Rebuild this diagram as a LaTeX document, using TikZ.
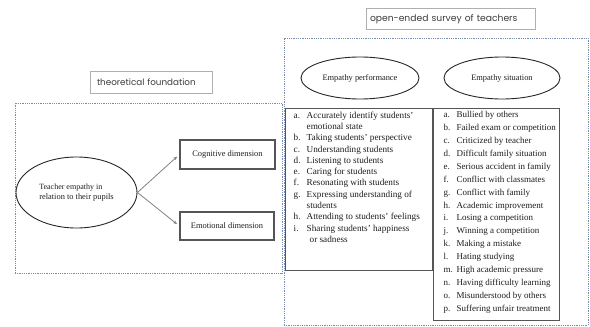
\documentclass[tikz,border=0pt]{standalone}
\usepackage{fontspec}
\setmainfont{Liberation Serif}
\newfontfamily\hdrfont{Poppins}
\usetikzlibrary{shapes.geometric,arrows.meta}
\definecolor{framecol}{RGB}{120,138,175}
\definecolor{hdrline}{RGB}{175,175,175}
\definecolor{hdrtext}{RGB}{60,60,60}
\definecolor{boxline}{RGB}{85,85,85}
\definecolor{txt}{RGB}{30,30,30}
\definecolor{arrcol}{RGB}{130,130,130}
\tikzset{
  hdrbox/.style={draw=hdrline, line width=0.8pt, inner ysep=0pt, inner xsep=4pt, text=hdrtext,
    align=left, font=\hdrfont\fontsize{9.2}{10}\selectfont},
  framebox/.style={draw=framecol, dash pattern=on 0.9pt off 0.9pt, line width=1pt, inner sep=0pt},
  ellnode/.style={ellipse, draw=black!85, line width=0.9pt, inner sep=0pt, text=txt,
    font=\fontsize{8.4}{10}\selectfont},
  dimbox/.style={draw=boxline, line width=1.2pt, inner sep=0pt, text=txt,
    font=\fontsize{8.4}{10}\selectfont},
  listbox/.style={draw=boxline, line width=1pt, inner sep=0pt},
  listtext/.style={anchor=north west, inner sep=0pt, text=txt},
  conn/.style={draw=arrcol, line width=0.8pt, -{Stealth[length=4pt,width=3.2pt,fill=black!80]}, shorten >=3pt}
}
\begin{document}
\begin{tikzpicture}[x=1pt,y=-1pt]
\useasboundingbox[fill=white] (0,0) rectangle (590,327);
% left side
\node[hdrbox, text width=114pt, minimum height=22pt, font=\hdrfont\fontsize{8.8}{10}\selectfont] (hL) at (151,82) {\hspace{3pt}theoretical foundation};
\node[framebox, minimum width=267pt, minimum height=170pt] (frL) at (148.5,188) {};
\node[ellnode, minimum width=121pt, minimum height=71pt, align=left] (ell) at (76.5,192.5)
  {\fontsize{8}{14.5}\selectfont Teacher empathy in\\relation to their pupils\hspace{4pt}};
\node[dimbox, minimum width=95pt, minimum height=29pt] (cog) at (227.5,154.5) {Cognitive dimension};
\node[dimbox, minimum width=94pt, minimum height=28pt] (emo) at (227,226) {Emotional dimension};
\draw[conn] (ell.east) -- (cog.west);
\draw[conn] (ell.east) -- (emo.west);
% right side
\node[hdrbox, text width=161pt, minimum height=21pt] (hR) at (450.5,19) {open-ended survey of teachers};
\node[framebox, minimum width=304pt, minimum height=287pt] (frR) at (436,181.5) {};
\node[ellnode, minimum width=118pt, minimum height=42pt] (ep) at (360,78) {Empathy performance};
\node[ellnode, minimum width=116pt, minimum height=42pt] (es) at (502,78) {Empathy situation};
\node[listbox, minimum width=147pt, minimum height=162pt] (lL) at (358.5,189) {};
\node[listbox, minimum width=126pt, minimum height=212pt] (lR) at (496,214) {};
\node[listtext, font=\fontsize{9.2}{11.3}\selectfont] (tL) at ([xshift=9pt,yshift=-2.5pt]lL.north west) {%
\begin{tabular}{@{}p{13pt}@{}l@{}}
a. & Accurately identify students'\\
   & emotional state\\
b. & Taking students' perspective\\
c. & Understanding students\\
d. & Listening to students\\
e. & Caring for students\\
f. & Resonating with students\\
g. & Expressing understanding of\\
   & students\\
h. & Attending to students' feelings\\
i. & Sharing students' happiness\\
   & \hspace{3pt}or sadness
\end{tabular}};
\node[listtext, font=\fontsize{9}{12.9}\selectfont] (tR) at ([xshift=11pt,yshift=-1pt]lR.north west) {%
\begin{tabular}{@{}p{13pt}@{}l@{}}
a. & Bullied by others\\
b. & Failed exam or competition\\
c. & Criticized by teacher\\
d. & Difficult family situation\\
e. & Serious accident in family\\
f. & Conflict with classmates\\
g. & Conflict with family\\
h. & Academic improvement\\
i. & Losing a competition\\
j. & Winning a competition\\
k. & Making a mistake\\
l. & Hating studying\\
m. & High academic pressure\\
n. & Having difficulty learning\\
o. & Misunderstood by others\\
p. & Suffering unfair treatment
\end{tabular}};
\end{tikzpicture}
\end{document}
